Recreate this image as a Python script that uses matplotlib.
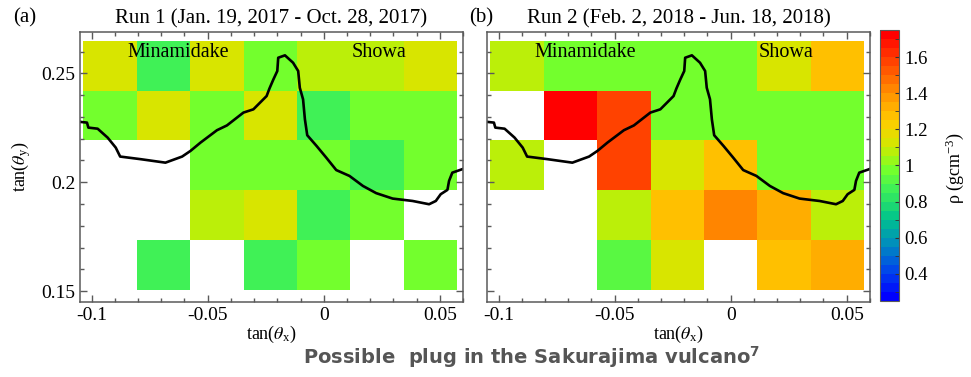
import numpy as np
import matplotlib
matplotlib.use("Agg")
import matplotlib.pyplot as plt
from matplotlib.colors import LinearSegmentedColormap, Normalize
from matplotlib.ticker import MultipleLocator, FuncFormatter

plt.rcParams["font.family"] = ["Liberation Serif", "DejaVu Serif"]
plt.rcParams["mathtext.fontset"] = "stix"
plt.rcParams["axes.unicode_minus"] = False

# bin edges of the density map (tan theta_x, tan theta_y)
x_edges = [-0.1035, -0.0805, -0.0575, -0.0345, -0.0115, 0.0115, 0.0345, 0.0575]
y_edges = [0.1505, 0.1734, 0.1963, 0.2192, 0.2421, 0.2650]

nan = np.nan
# density (g/cm3), rows listed from top (high tan_y) to bottom
run1_rho = [
    [1.12, 0.87, 1.12, 0.97, 1.07, 1.07, 1.12],
    [0.97, 1.12, 0.97, 1.12, 0.87, 0.97, 0.97],
    [nan, nan, 0.97, 0.97, 0.97, 0.87, 0.97],
    [nan, nan, 1.07, 1.12, 0.87, 0.97, nan],
    [nan, 0.87, nan, 0.87, 0.97, nan, 0.97],
]
run2_rho = [
    [1.07, 0.97, 0.97, 0.97, 0.97, 1.12, 1.27],
    [nan, 1.72, 1.57, 0.97, 0.97, 0.97, 0.97],
    [1.07, nan, 1.57, 1.12, 1.27, 0.97, 0.97],
    [nan, nan, 1.07, 1.27, 1.45, 1.32, 1.07],
    [nan, nan, 0.92, 1.12, nan, 1.27, 1.32],
]

# mountain profile
ridge_x = [-0.1046, -0.1020, -0.1014, -0.0974, -0.0931, -0.0896, -0.0877, -0.0789,
           -0.0682, -0.0610, -0.0574, -0.0531, -0.0460, -0.0417, -0.0346, -0.0303,
           -0.0246, -0.0234, -0.0217, -0.0200, -0.0196, -0.0167, -0.0132, -0.0110,
           -0.0103, -0.0089, -0.0081, -0.0071, -0.0031, 0.0011, 0.0054, 0.0111,
           0.0169, 0.0226, 0.0297, 0.0383, 0.0454, 0.0483, 0.0504, 0.0533,
           0.0540, 0.0554, 0.0597]
ridge_y = [0.2277, 0.2274, 0.2251, 0.2246, 0.2205, 0.2159, 0.2118, 0.2106,
           0.2090, 0.2118, 0.2144, 0.2182, 0.2239, 0.2261, 0.2320, 0.2335,
           0.2396, 0.2430, 0.2472, 0.2511, 0.2572, 0.2583, 0.2549, 0.2511,
           0.2434, 0.2381, 0.2289, 0.2216, 0.2167, 0.2113, 0.2056, 0.2029,
           0.1983, 0.1950, 0.1925, 0.1914, 0.1899, 0.1914, 0.1945, 0.1965,
           0.2006, 0.2044, 0.2060]

titles = ["Run 1 (Jan. 19, 2017 - Oct. 28, 2017)", "Run 2 (Feb. 2, 2018 - Jun. 18, 2018)"]
panel_tags = ["(a)", "(b)"]

# rainbow palette, 30 discrete levels between 0.25 and 1.75
vmin, vmax = 0.25, 1.75
pal = [(0.25, (0, 0, 255)), (0.40, (0, 70, 235)), (0.55, (0, 140, 190)),
       (0.70, (0, 195, 140)), (0.80, (40, 225, 105)), (0.875, (65, 242, 85)),
       (0.975, (115, 255, 45)), (1.05, (170, 245, 15)), (1.125, (215, 230, 0)),
       (1.25, (255, 205, 0)), (1.40, (255, 150, 0)), (1.55, (255, 85, 0)),
       (1.75, (255, 0, 0))]
stops = [((v - vmin) / (vmax - vmin), tuple(c / 255 for c in rgb)) for v, rgb in pal]
cmap = LinearSegmentedColormap.from_list("rainbow30", stops, N=30)
norm = Normalize(vmin=vmin, vmax=vmax)

fig = plt.figure(figsize=(9.71, 3.77), dpi=100)
frame_col = "#5a5a5a"
fmt = FuncFormatter(lambda v, p: "%g" % round(v, 3))

axes = [fig.add_axes([0.0824, 0.199, 0.3944, 0.716]),
        fig.add_axes([0.5015, 0.199, 0.3944, 0.716])]
for i, (ax, data) in enumerate(zip(axes, [run1_rho, run2_rho])):
    z = np.ma.masked_invalid(np.array(data)[::-1])
    mesh = ax.pcolormesh(x_edges, y_edges, z, cmap=cmap, norm=norm)
    ax.plot(ridge_x, ridge_y, color="black", lw=1.9)
    ax.text(-0.0626, 0.2596, "Minamidake", ha="center", va="center", fontsize=14.5)
    ax.text(0.024, 0.2596, "Showa", ha="center", va="center", fontsize=14.5)
    ax.set_xlim(-0.105, 0.06)
    ax.set_ylim(0.145, 0.269)
    ax.xaxis.set_major_locator(MultipleLocator(0.05))
    ax.xaxis.set_minor_locator(MultipleLocator(0.01))
    ax.yaxis.set_major_locator(MultipleLocator(0.05))
    ax.yaxis.set_minor_locator(MultipleLocator(0.01))
    ax.xaxis.set_major_formatter(fmt)
    ax.yaxis.set_major_formatter(fmt)
    ax.tick_params(which="both", direction="in", top=True, right=True,
                   color=frame_col, labelsize=14)
    ax.tick_params(which="major", length=5, width=1)
    ax.tick_params(which="minor", length=3, width=1)
    for sp in ax.spines.values():
        sp.set_color(frame_col)
        sp.set_linewidth(1.1)
    ax.set_title(titles[i], fontsize=15, pad=6)
    ax.set_xlabel(r"tan($\theta_\mathregular{x}$)", fontsize=13, labelpad=0)
    if i == 0:
        ax.set_ylabel(r"tan($\theta_\mathregular{y}$)", fontsize=13, labelpad=6)
    else:
        ax.tick_params(labelleft=False)

fig.text(0.025, 0.952, panel_tags[0], ha="center", va="center", fontsize=15)
fig.text(0.496, 0.952, panel_tags[1], ha="center", va="center", fontsize=15)

cax = fig.add_axes([0.9063, 0.2016, 0.0196, 0.719])
cb = fig.colorbar(mesh, cax=cax)
cb.set_ticks([0.4, 0.6, 0.8, 1.0, 1.2, 1.4, 1.6])
cb.ax.yaxis.set_major_formatter(fmt)
cb.ax.yaxis.set_minor_locator(MultipleLocator(0.1))
cb.ax.tick_params(which="both", direction="in", length=3, color="#333333", labelsize=13.5)
cb.outline.set_edgecolor(frame_col)
fig.text(0.983, 0.555, r"ρ (gcm$^\mathregular{-3}$)", rotation=90, ha="center", va="center", fontsize=13)

fig.text(0.548, 0.052, "Possible  plug in the Sakurajima vulcano$^\\mathregular{7}$",
         ha="center", va="center", fontsize=14, fontweight="bold",
         color="#555555", family="DejaVu Sans")

fig.savefig("out.png", dpi=100)
